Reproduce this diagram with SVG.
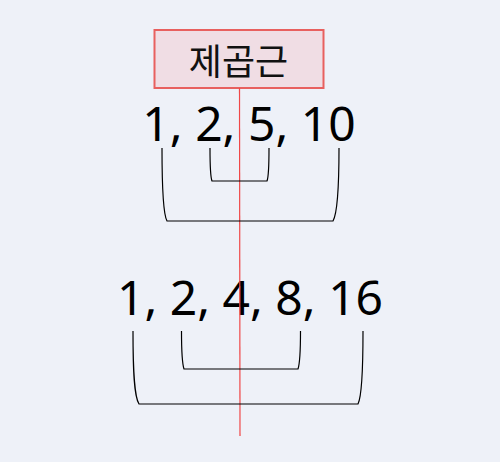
<svg xmlns="http://www.w3.org/2000/svg" width="500" height="462" viewBox="0 0 500 462">
<style>
.num{font-family:"Noto Sans","Open Sans",sans-serif;font-size:48px;fill:#000;text-anchor:middle}
.title{font-family:"Noto Sans CJK KR","Noto Sans",sans-serif;font-size:36px;fill:#111;text-anchor:middle}
.br{fill:none;stroke:#000;stroke-width:1.2}
</style>
<rect width="500" height="462" fill="#eef1f8"/>
<g id="title-node">
<rect x="154.5" y="30" width="169" height="58" fill="#f0dde4" stroke="#e8605f" stroke-width="2"/>
<text class="title" x="238.5" y="75">제곱근</text>
</g>
<g id="seq1"><text class="num" x="249" y="141">1, 2, 5, 10</text></g>
<g id="seq2"><text class="num" x="250" y="315">1, 2, 4, 8, 16</text></g>
<g id="connectors">
<line x1="239.5" y1="88" x2="240" y2="436" stroke="#f04848" stroke-width="1.2"/>
<path class="br" d="M210,148 C210,165 210,176 212,181 L267,181 C269,176 269,165 269,148"/>
<path class="br" d="M162,148 C162,190 163,214 167,221 L333,221 C337,214 339,190 339,148"/>
<path class="br" d="M181.5,331 C181.5,350 182,363 184,369 L298,369 C300,363 300.5,350 300.5,331"/>
<path class="br" d="M133,331 C133,370 134,396 139,404 L358,404 C362,396 363,370 363,331"/>
</g>
</svg>
